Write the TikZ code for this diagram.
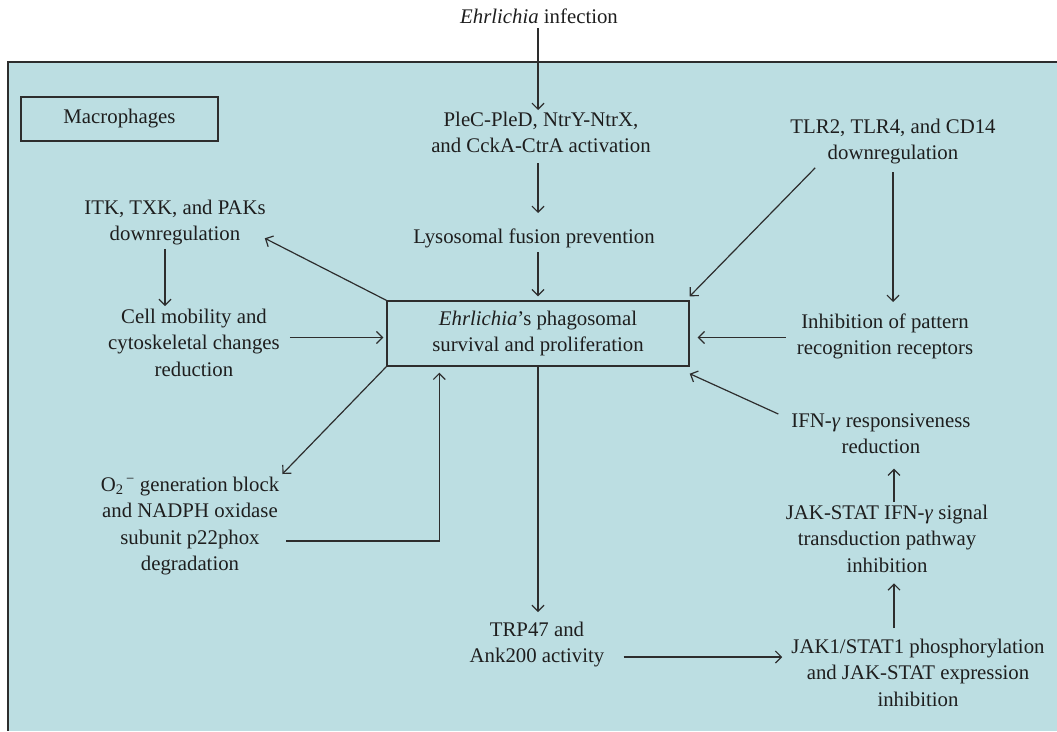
\documentclass[tikz,border=0pt]{standalone}
\usepackage{fontspec}
\setmainfont{Liberation Serif}
\usetikzlibrary{arrows.meta,calc}
\definecolor{bgc}{RGB}{188,222,226}
\definecolor{lc}{RGB}{45,45,45}
\definecolor{tc}{RGB}{30,30,30}
\begin{document}
\begin{tikzpicture}[x=1pt,y=-1pt,
  font=\fontsize{20.8}{26.5}\selectfont,
  txt/.style={align=center, inner sep=0pt, anchor=north, text=tc,
    execute at begin node=\strut, execute at end node=\strut},
  boxnode/.style={draw=lc, line width=1.4pt, align=center, inner sep=0pt, text=tc},
  arr/.style={draw=lc, line width=1.2pt, -{Straight Barb[length=6pt,width=12pt]}},
  ln/.style={draw=lc, line width=1.2pt}]
\useasboundingbox (0,0) rectangle (1057,731);
\fill[bgc] (8,62) rectangle (1057,731);
\draw[lc, line width=1.5pt] (1057,62) -- (8,62) -- (8,731);

\node[boxnode, minimum width=197, minimum height=44] (mac) at (119.5,119) {Macrophages};
\node[boxnode, minimum width=302, minimum height=65] (box) at (538,333.5)
  {\textit{Ehrlichia}'s phagosomal\\survival and proliferation};

\node[txt] (inf) at (539,4.5) {\textit{Ehrlichia} infection};
\node[txt] (plec) at (541,111.5) {PleC-PleD, NtrY-NtrX,\\and CckA-CtrA activation};
\node[txt] (lyso) at (534,224.5) {Lysosomal fusion prevention};
\node[txt] (itk) at (175,199.5) {ITK, TXK, and PAKs\\downregulation};
\node[txt] (cell) at (194,308.5) {Cell mobility and\\cytoskeletal changes\\reduction};
\node[txt] (o2) at (190,476.5) {O\textsubscript{2}\textsuperscript{\,−} generation block\\and NADPH oxidase\\subunit p22phox\\degradation};
\node[txt] (trp) at (537,621.5) {TRP47 and\\Ank200 activity};
\node[txt] (tlr) at (893,118.5) {TLR2, TLR4, and CD14\\downregulation};
\node[txt] (inhib) at (885,313.5) {Inhibition of pattern\\recognition receptors};
\node[txt] (ifn) at (881,413.5) {IFN-\textit{γ} responsiveness\\reduction};
\node[txt] (jakstat) at (887,504.5) {JAK-STAT IFN-\textit{γ} signal\\transduction pathway\\inhibition};
\node[txt] (jak1) at (918,638.5) {JAK1/STAT1 phosphorylation\\and JAK-STAT expression\\inhibition};

\draw[arr] ($(inf.south -| box.north)+(0,-3)$) -- ($(plec.north -| box.north)+(0,-1.5)$);
\draw[arr] ($(plec.south -| box.north)+(0,2.5)$) -- ($(lyso.north -| box.north)+(0,-11.5)$);
\draw[arr] ($(lyso.south -| box.north)+(0,1)$) -- ($(box.north)+(0,-4)$);
\draw[arr] (box.north west) -- ($(itk.south east)+(-1,-10.5)$);
\draw[arr] ($(itk.south)+(-10,0)$) -- ($(cell.north -| itk.south)+(-10,-2.5)$);
\draw[arr] ($(cell.east |- box.west)+(10,4)$) -- ($(box.west)+(-3,4)$);
\draw[arr] (box.south west) -- ($(o2.north east)+(3,-2.5)$);
\draw[arr] ($(o2.north east)+(7,64.5)$) -| ($(box.south west)+(53,6)$);
\draw[arr] (box.south) -- ($(trp.north -| box.south)+(0,-9.5)$);
\draw[arr] ($(trp.east |- jak1.north)+(19,18.5)$) -- ($(jak1.north west)+(-9,18.5)$);
\draw[arr] ($(jak1.north)+(-24,-10.5)$) -- ($(jakstat.south -| jak1.north)+(-24,3)$);
\draw[arr] ($(jakstat.north)+(7,-2.5)$) -- ($(ifn.south -| jakstat.north)+(7,6.5)$);
\draw[arr] ($(ifn.north west)+(-13,0.5)$) -- ($(box.south east)+(0,7)$);
\draw[arr] ($(tlr.south west)+(25,0)$) -- ($(box.north east)+(0,-4)$);
\draw[arr] ($(tlr.south)+(0,4.5)$) -- ($(inhib.north -| tlr.south)+(0,-11.5)$);
\draw[arr] ($(inhib.west |- box.east)+(-11,4)$) -- ($(box.east)+(8,4)$);
\end{tikzpicture}
\end{document}
